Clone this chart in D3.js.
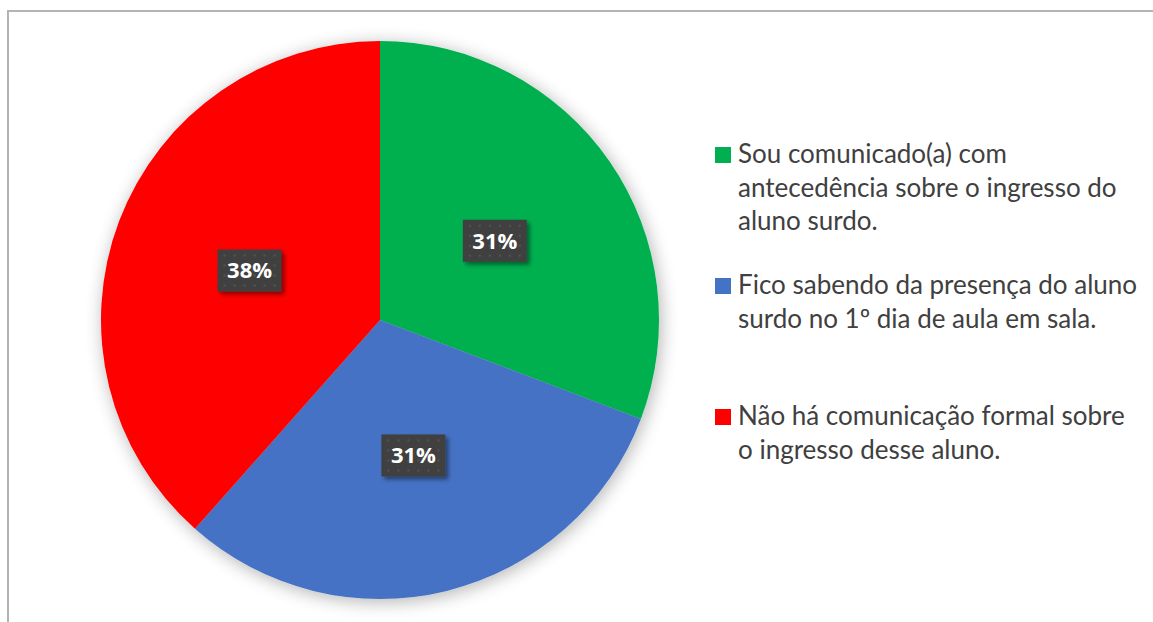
<!DOCTYPE html>
<html lang="pt">
<head>
<meta charset="utf-8">
<title>Pie</title>
<script src="https://cdn.jsdelivr.net/npm/d3@7"></script>
<style>
  html, body { margin:0; padding:0; overflow:hidden; background:#fff }
  svg { display:block }
</style>
</head>
<body>
<script>
// data
var categories = [
  "Sou comunicado(a) com antecedência sobre o ingresso do aluno surdo.",
  "Fico sabendo da presença do aluno surdo no 1º dia de aula em sala.",
  "Não há comunicação formal sobre o ingresso desse aluno."
];
var legendLines = [
  ["Sou comunicado(a) com", "antecedência sobre o ingresso do", "aluno surdo."],
  ["Fico sabendo da presença do aluno", "surdo no 1º dia de aula em sala."],
  ["Não há comunicação formal sobre", "o ingresso desse aluno."]
];
var values = [4, 4, 5];
var colors = ["#00b050", "#4472c4", "#ff0000"];

var width = 1153, height = 622;
var cx = 380, cy = 320, radius = 279;

var svg = d3.select("body").append("svg")
  .attr("width", width).attr("height", height);

var defs = svg.append("defs");

// soft shadow round the pie
var sh = defs.append("filter").attr("id", "pieShadow")
  .attr("x", "-20%").attr("y", "-20%").attr("width", "140%").attr("height", "140%");
sh.append("feGaussianBlur").attr("in", "SourceAlpha").attr("stdDeviation", 9).attr("result", "b");
sh.append("feOffset").attr("in", "b").attr("dx", 2).attr("dy", 3).attr("result", "o");
sh.append("feComponentTransfer").attr("in", "o").attr("result", "s")
  .append("feFuncA").attr("type", "linear").attr("slope", 0.3);
var m = sh.append("feMerge");
m.append("feMergeNode").attr("in", "s");
m.append("feMergeNode").attr("in", "SourceGraphic");

// label box shadow
var lsh = defs.append("filter").attr("id", "lblShadow")
  .attr("x", "-30%").attr("y", "-30%").attr("width", "160%").attr("height", "160%");
lsh.append("feGaussianBlur").attr("in", "SourceAlpha").attr("stdDeviation", 2).attr("result", "b");
lsh.append("feOffset").attr("in", "b").attr("dx", 3).attr("dy", 3).attr("result", "o");
lsh.append("feComponentTransfer").attr("in", "o").attr("result", "s")
  .append("feFuncA").attr("type", "linear").attr("slope", 0.45);
var m2 = lsh.append("feMerge");
m2.append("feMergeNode").attr("in", "s");
m2.append("feMergeNode").attr("in", "SourceGraphic");

// dotted pattern for label boxes
var pat = defs.append("pattern").attr("id", "dots")
  .attr("width", 10).attr("height", 10).attr("patternUnits", "userSpaceOnUse");
pat.append("rect").attr("width", 10).attr("height", 10).attr("fill", "#404040");
pat.append("rect").attr("x", 4).attr("y", 4).attr("width", 2).attr("height", 2).attr("fill", "#535353");

svg.append("rect").attr("width", width).attr("height", height).attr("fill", "#fff");

// chart frame
svg.append("rect")
  .attr("x", 8).attr("y", 11)
  .attr("width", width + 20).attr("height", height + 20)
  .attr("fill", "none").attr("stroke", "#b4b4b4").attr("stroke-width", 2);

var pie = d3.pie().sort(null).value(function(d) { return d; });
var arcs = pie(values);
var arc = d3.arc().innerRadius(0).outerRadius(radius);
var labelArc = d3.arc().innerRadius(radius * 0.5).outerRadius(radius * 0.5);

var g = svg.append("g").attr("transform", "translate(" + cx + "," + cy + ")");

g.append("g").attr("filter", "url(#pieShadow)")
  .selectAll("path")
  .data(arcs)
  .enter()
  .append("path")
  .attr("d", arc)
  .attr("fill", function(d, i) { return colors[i]; });

var total = d3.sum(values);
var lbl = g.selectAll("g.lbl")
  .data(arcs)
  .enter()
  .append("g")
  .attr("class", "lbl")
  .attr("transform", function(d) { return "translate(" + labelArc.centroid(d) + ")"; });

lbl.append("rect")
  .attr("x", -32).attr("y", -21).attr("width", 64).attr("height", 42)
  .attr("fill", "url(#dots)")
  .attr("filter", "url(#lblShadow)");

lbl.append("text")
  .attr("text-anchor", "middle")
  .attr("dy", "0.36em")
  .attr("fill", "#fff")
  .style("font-family", "'Open Sans', Lato, sans-serif")
  .style("font-weight", "bold")
  .style("font-size", "22px")
  .text(function(d) { return Math.round(d.value / total * 100) + "%"; });

// legend
var legendY = d3.scalePoint().domain(categories).range([163, 425]);
var lg = svg.append("g").selectAll("g")
  .data(categories)
  .enter()
  .append("g")
  .attr("transform", function(d) { return "translate(715," + legendY(d) + ")"; });

lg.append("rect")
  .attr("x", 0).attr("y", -16).attr("width", 16).attr("height", 16)
  .attr("fill", function(d, i) { return colors[i]; });

lg.append("text")
  .attr("x", 23)
  .attr("fill", "#404040")
  .style("font-family", "Lato, 'Open Sans', sans-serif")
  .style("font-size", "26px")
  .selectAll("tspan")
  .data(function(d, i) { return legendLines[i]; })
  .enter()
  .append("tspan")
  .attr("x", 23)
  .attr("y", function(d, i) { return i * 33.5; })
  .text(function(d) { return d; });
</script>
</body>
</html>
